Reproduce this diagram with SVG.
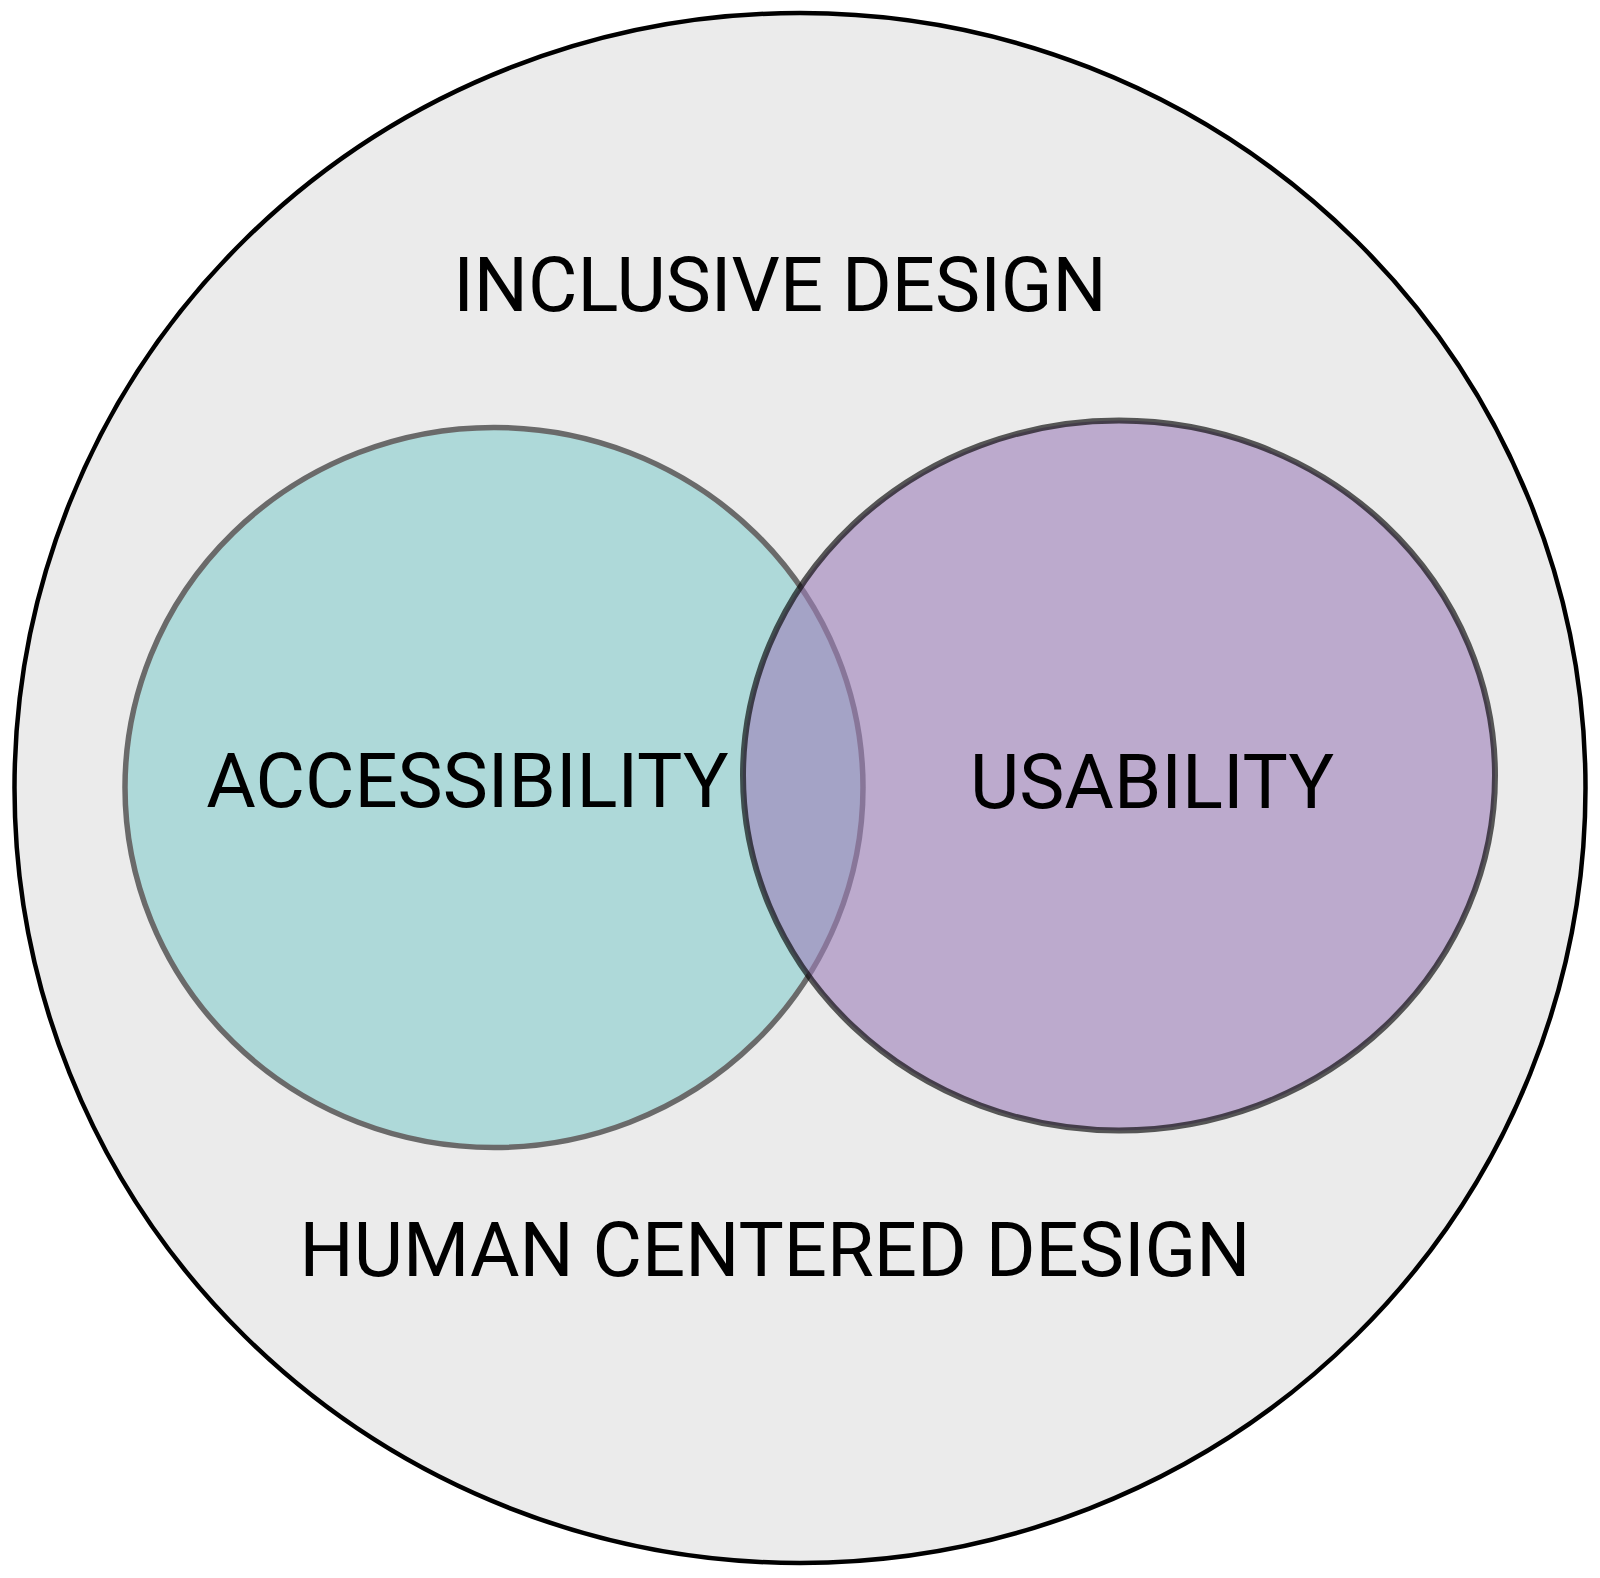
<svg xmlns="http://www.w3.org/2000/svg" width="1600" height="1578" viewBox="0 0 1600 1578">
  <style>
    .label { font-family: Roboto, "Liberation Sans", sans-serif; font-size: 76px; fill: #000000; text-anchor: middle; }
  </style>
  <rect x="0" y="0" width="1600" height="1578" fill="#ffffff"/>
  <g id="human-centered-design">
    <ellipse cx="800" cy="788" rx="785.5" ry="775" fill="#ebebeb" stroke="#000000" stroke-width="4.5"/>
    <text class="label" x="780" y="311">INCLUSIVE DESIGN</text>
    <text class="label" x="775" y="1276">HUMAN CENTERED DESIGN</text>
  </g>
  <g id="accessibility">
    <ellipse cx="494" cy="787.5" rx="369" ry="360" fill="#aed9d9" stroke="#6a6a6a" stroke-width="5.5"/>
    <text class="label" x="467.5" y="807">ACCESSIBILITY</text>
  </g>
  <g id="usability">
    <ellipse cx="1119" cy="775.5" rx="376" ry="355" fill="#9d7fb9" fill-opacity="0.6" stroke="#000000" stroke-opacity="0.64" stroke-width="6"/>
    <text class="label" x="1152" y="808">USABILITY</text>
  </g>
</svg>
